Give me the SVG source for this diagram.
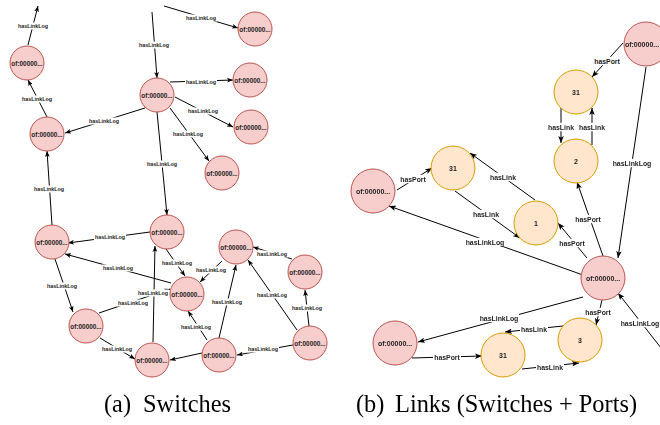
<svg xmlns="http://www.w3.org/2000/svg" width="660" height="425" viewBox="0 0 660 425">
  <style>
    .sw { fill: #f8cecc; stroke: #b85450; stroke-width: 1; }
    .pt { fill: #ffe6cc; stroke: #d79b00; stroke-width: 1; }
    .nt { font-family: "Liberation Sans", Arial, sans-serif; font-weight: bold; fill: #222; text-anchor: middle; dominant-baseline: central; }
    .nta { font-size: 6.4px; }
    .ntb { font-size: 7px; }
    .e { fill: none; stroke: #000; stroke-width: 1; }
    .ea { marker-end: url(#arrA); }
    .eb { marker-end: url(#arrB); }
    .bg { fill: #fff; }
    .lb { font-family: "Liberation Sans", Arial, sans-serif; font-weight: bold; fill: #222; text-anchor: middle; dominant-baseline: central; }
    .lba { font-size: 5.4px; }
    .lbb { font-size: 6.9px; }
    #b-labels { opacity: 0.99; }
    .cap { font-family: "Liberation Serif", "Times New Roman", serif; font-size: 24.4px; fill: #000; }
  </style>
  <defs>
    <marker id="arrA" markerUnits="userSpaceOnUse" viewBox="0 0 10 8" markerWidth="6" markerHeight="4.8" refX="10" refY="4" orient="auto">
      <path d="M0,0 L10,4 L0,8 L2.5,4 z" fill="#000"/>
    </marker>
    <marker id="arrB" markerUnits="userSpaceOnUse" viewBox="0 0 10 8" markerWidth="7" markerHeight="5.6" refX="10" refY="4" orient="auto">
      <path d="M0,0 L10,4 L0,8 L2.5,4 z" fill="#000"/>
    </marker>
    <!-- white plates behind edge labels -->
    <rect id="plA" class="bg" x="-16" y="-3.5" width="32" height="7"/>
    <rect id="plLog" class="bg" x="-20" y="-4.2" width="40" height="8.4"/>
    <rect id="plS" class="bg" x="-14" y="-4.2" width="28" height="8.4"/>
  </defs>

  <!-- (a) switch-to-switch link log graph -->
  <g id="a-edges">
    <path class="e ea" d="M28,45 L38,6"/>
    <path class="e ea" d="M47,117 L28,80"/>
    <path class="e ea" d="M145,108 L65,133"/>
    <path class="e ea" d="M152,12 L157,78"/>
    <path class="e ea" d="M164,6 L238,28"/>
    <path class="e ea" d="M170,82 L233,80"/>
    <path class="e ea" d="M175,97 L233,127"/>
    <path class="e ea" d="M170,108 L209,161"/>
    <path class="e ea" d="M157,112 L167,215"/>
    <path class="e ea" d="M52,225 L47,151"/>
    <path class="e ea" d="M150,232 L68,243"/>
    <path class="e ea" d="M171,283 L65,254"/>
    <path class="e ea" d="M55,259 L73,312"/>
    <path class="e ea" d="M99,313 L170,289"/>
    <path class="e ea" d="M153,342 L155,246"/>
    <path class="e ea" d="M166,249 L185,276"/>
    <path class="e ea" d="M222,261 L200,282"/>
    <path class="e ea" d="M292,259 L253,247"/>
    <path class="e ea" d="M207,340 L188,311"/>
    <path class="e ea" d="M219,338 L236,265"/>
    <path class="e ea" d="M202,353 L170,360"/>
    <path class="e ea" d="M293,345 L237,355"/>
    <path class="e ea" d="M297,330 L248,260"/>
    <path class="e ea" d="M309,326 L305,290"/>
    <path class="e ea" d="M100,338 L135,359"/>
  </g>
  <g id="a-labels">
    <use href="#plA" x="33" y="26"/><text class="lb lba" x="33" y="26">hasLinkLog</text>
    <use href="#plA" x="37" y="99"/><text class="lb lba" x="37" y="99">hasLinkLog</text>
    <use href="#plA" x="104" y="121"/><text class="lb lba" x="104" y="121">hasLinkLog</text>
    <use href="#plA" x="154" y="45"/><text class="lb lba" x="154" y="45">hasLinkLog</text>
    <use href="#plA" x="201" y="18"/><text class="lb lba" x="201" y="18">hasLinkLog</text>
    <use href="#plA" x="201" y="82"/><text class="lb lba" x="201" y="82">hasLinkLog</text>
    <use href="#plA" x="203" y="111"/><text class="lb lba" x="203" y="111">hasLinkLog</text>
    <use href="#plA" x="188" y="134"/><text class="lb lba" x="188" y="134">hasLinkLog</text>
    <use href="#plA" x="162" y="164"/><text class="lb lba" x="162" y="164">hasLinkLog</text>
    <use href="#plA" x="49" y="189"/><text class="lb lba" x="49" y="189">hasLinkLog</text>
    <use href="#plA" x="110" y="237"/><text class="lb lba" x="110" y="237">hasLinkLog</text>
    <use href="#plA" x="118" y="268"/><text class="lb lba" x="118" y="268">hasLinkLog</text>
    <use href="#plA" x="62" y="286"/><text class="lb lba" x="62" y="286">hasLinkLog</text>
    <use href="#plA" x="133" y="303"/><text class="lb lba" x="133" y="303">hasLinkLog</text>
    <use href="#plA" x="153" y="293"/><text class="lb lba" x="153" y="293">hasLinkLog</text>
    <use href="#plA" x="177" y="263"/><text class="lb lba" x="177" y="263">hasLinkLog</text>
    <use href="#plA" x="211" y="270"/><text class="lb lba" x="211" y="270">hasLinkLog</text>
    <use href="#plA" x="272" y="254"/><text class="lb lba" x="272" y="254">hasLinkLog</text>
    <use href="#plA" x="196" y="327"/><text class="lb lba" x="196" y="327">hasLinkLog</text>
    <use href="#plA" x="227" y="302"/><text class="lb lba" x="227" y="302">hasLinkLog</text>
    <use href="#plA" x="263" y="349"/><text class="lb lba" x="263" y="349">hasLinkLog</text>
    <use href="#plA" x="272" y="295"/><text class="lb lba" x="272" y="295">hasLinkLog</text>
    <use href="#plA" x="307" y="308"/><text class="lb lba" x="307" y="308">hasLinkLog</text>
    <use href="#plA" x="117" y="349"/><text class="lb lba" x="117" y="349">hasLinkLog</text>
  </g>
  <g id="a-A"><circle class="sw" cx="27" cy="63" r="17"/><text class="nt nta" x="27" y="63">of:00000...</text></g>
  <g id="a-B"><circle class="sw" cx="47" cy="134" r="17"/><text class="nt nta" x="47" y="134">of:00000...</text></g>
  <g id="a-C"><circle class="sw" cx="157" cy="95" r="17"/><text class="nt nta" x="157" y="95">of:00000...</text></g>
  <g id="a-D"><circle class="sw" cx="255" cy="29" r="17"/><text class="nt nta" x="255" y="29">of:00000...</text></g>
  <g id="a-E"><circle class="sw" cx="250" cy="80" r="17"/><text class="nt nta" x="250" y="80">of:00000...</text></g>
  <g id="a-F"><circle class="sw" cx="251" cy="127" r="17"/><text class="nt nta" x="251" y="127">of:00000...</text></g>
  <g id="a-G"><circle class="sw" cx="222" cy="173" r="17"/><text class="nt nta" x="222" y="173">of:00000...</text></g>
  <g id="a-H"><circle class="sw" cx="167" cy="232" r="17"/><text class="nt nta" x="167" y="232">of:00000...</text></g>
  <g id="a-I"><circle class="sw" cx="52" cy="242" r="17"/><text class="nt nta" x="52" y="242">of:00000...</text></g>
  <g id="a-J"><circle class="sw" cx="236" cy="247" r="17"/><text class="nt nta" x="236" y="247">of:00000...</text></g>
  <g id="a-K"><circle class="sw" cx="187" cy="294" r="17"/><text class="nt nta" x="187" y="294">of:00000...</text></g>
  <g id="a-L"><circle class="sw" cx="305" cy="272" r="17"/><text class="nt nta" x="305" y="272">of:00000...</text></g>
  <g id="a-M"><circle class="sw" cx="86" cy="326" r="17"/><text class="nt nta" x="86" y="326">of:00000...</text></g>
  <g id="a-N"><circle class="sw" cx="152" cy="360" r="17"/><text class="nt nta" x="152" y="360">of:00000...</text></g>
  <g id="a-O"><circle class="sw" cx="219" cy="355" r="17"/><text class="nt nta" x="219" y="355">of:00000...</text></g>
  <g id="a-P"><circle class="sw" cx="310" cy="343" r="17"/><text class="nt nta" x="310" y="343">of:00000...</text></g>

  <!-- (b) switches with their ports and links -->
  <g id="b-edges">
    <path class="e eb" d="M623,43 L592,77"/>
    <path class="e eb" d="M646,67 L618,258"/>
    <path class="e eb" d="M561,108 L561,143"/>
    <path class="e eb" d="M592,145 L592,108"/>
    <path class="e eb" d="M603,256 L577,182"/>
    <path class="e eb" d="M587,258 L558,223"/>
    <path class="e eb" d="M535,200 L470,153"/>
    <path class="e eb" d="M455,191 L520,238"/>
    <path class="e eb" d="M397,190 L432,168"/>
    <path class="e eb" d="M583,275 L389,206"/>
    <path class="e eb" d="M583,297 L418,342"/>
    <path class="e eb" d="M602,300 L596,325"/>
    <path class="e eb" d="M563,326 L505,332"/>
    <path class="e eb" d="M522,369 L579,363"/>
    <path class="e eb" d="M412,358 L482,356"/>
    <path class="e eb" d="M672,362 L618,293"/>
  </g>
  <g id="b-labels">
    <use href="#plS" x="607" y="61"/><text class="lb lbb" x="607" y="61">hasPort</text>
    <use href="#plLog" x="632" y="163"/><text class="lb lbb" x="632" y="163">hasLinkLog</text>
    <use href="#plS" x="561" y="127"/><text class="lb lbb" x="561" y="127">hasLink</text>
    <use href="#plS" x="592" y="127"/><text class="lb lbb" x="592" y="127">hasLink</text>
    <use href="#plS" x="588" y="219"/><text class="lb lbb" x="588" y="219">hasPort</text>
    <use href="#plS" x="572" y="243"/><text class="lb lbb" x="572" y="243">hasPort</text>
    <use href="#plS" x="503" y="177"/><text class="lb lbb" x="503" y="177">hasLink</text>
    <use href="#plS" x="486" y="214"/><text class="lb lbb" x="486" y="214">hasLink</text>
    <use href="#plS" x="413" y="179"/><text class="lb lbb" x="413" y="179">hasPort</text>
    <use href="#plLog" x="485" y="242"/><text class="lb lbb" x="485" y="242">hasLinkLog</text>
    <use href="#plLog" x="499" y="318"/><text class="lb lbb" x="499" y="318">hasLinkLog</text>
    <use href="#plS" x="598" y="312"/><text class="lb lbb" x="598" y="312">hasPort</text>
    <use href="#plS" x="534" y="329"/><text class="lb lbb" x="534" y="329">hasLink</text>
    <use href="#plS" x="550" y="367"/><text class="lb lbb" x="550" y="367">hasLink</text>
    <use href="#plS" x="447" y="357"/><text class="lb lbb" x="447" y="357">hasPort</text>
    <use href="#plLog" x="640" y="323"/><text class="lb lbb" x="640" y="323">hasLinkLog</text>
  </g>
  <g id="b-S1"><circle class="sw" cx="646" cy="44" r="22"/><text class="nt ntb" x="642" y="44">of:00000...</text></g>
  <g id="b-S2"><circle class="sw" cx="373" cy="191" r="22"/><text class="nt ntb" x="373" y="191">of:00000...</text></g>
  <g id="b-S3"><circle class="sw" cx="603" cy="278" r="22"/><text class="nt ntb" x="603" y="278">of:00000...</text></g>
  <g id="b-S4"><circle class="sw" cx="395" cy="343" r="22"/><text class="nt ntb" x="395" y="343">of:00000...</text></g>
  <g id="b-P31a"><circle class="pt" cx="576" cy="92" r="22"/><text class="nt ntb" x="576" y="92">31</text></g>
  <g id="b-P2"><circle class="pt" cx="576" cy="161" r="22"/><text class="nt ntb" x="576" y="161">2</text></g>
  <g id="b-P31b"><circle class="pt" cx="453" cy="168" r="22"/><text class="nt ntb" x="453" y="168">31</text></g>
  <g id="b-P1"><circle class="pt" cx="536" cy="223" r="22"/><text class="nt ntb" x="536" y="223">1</text></g>
  <g id="b-P3"><circle class="pt" cx="580" cy="340" r="22"/><text class="nt ntb" x="580" y="340">3</text></g>
  <g id="b-P31c"><circle class="pt" cx="503" cy="355" r="22"/><text class="nt ntb" x="503" y="355">31</text></g>

  <!-- captions -->
  <text class="cap" y="412"><tspan x="104">(a)</tspan><tspan x="143">Switches</tspan></text>
  <text class="cap" y="412"><tspan x="356">(b)</tspan><tspan x="395">Links (Switches + Ports)</tspan></text>
</svg>
